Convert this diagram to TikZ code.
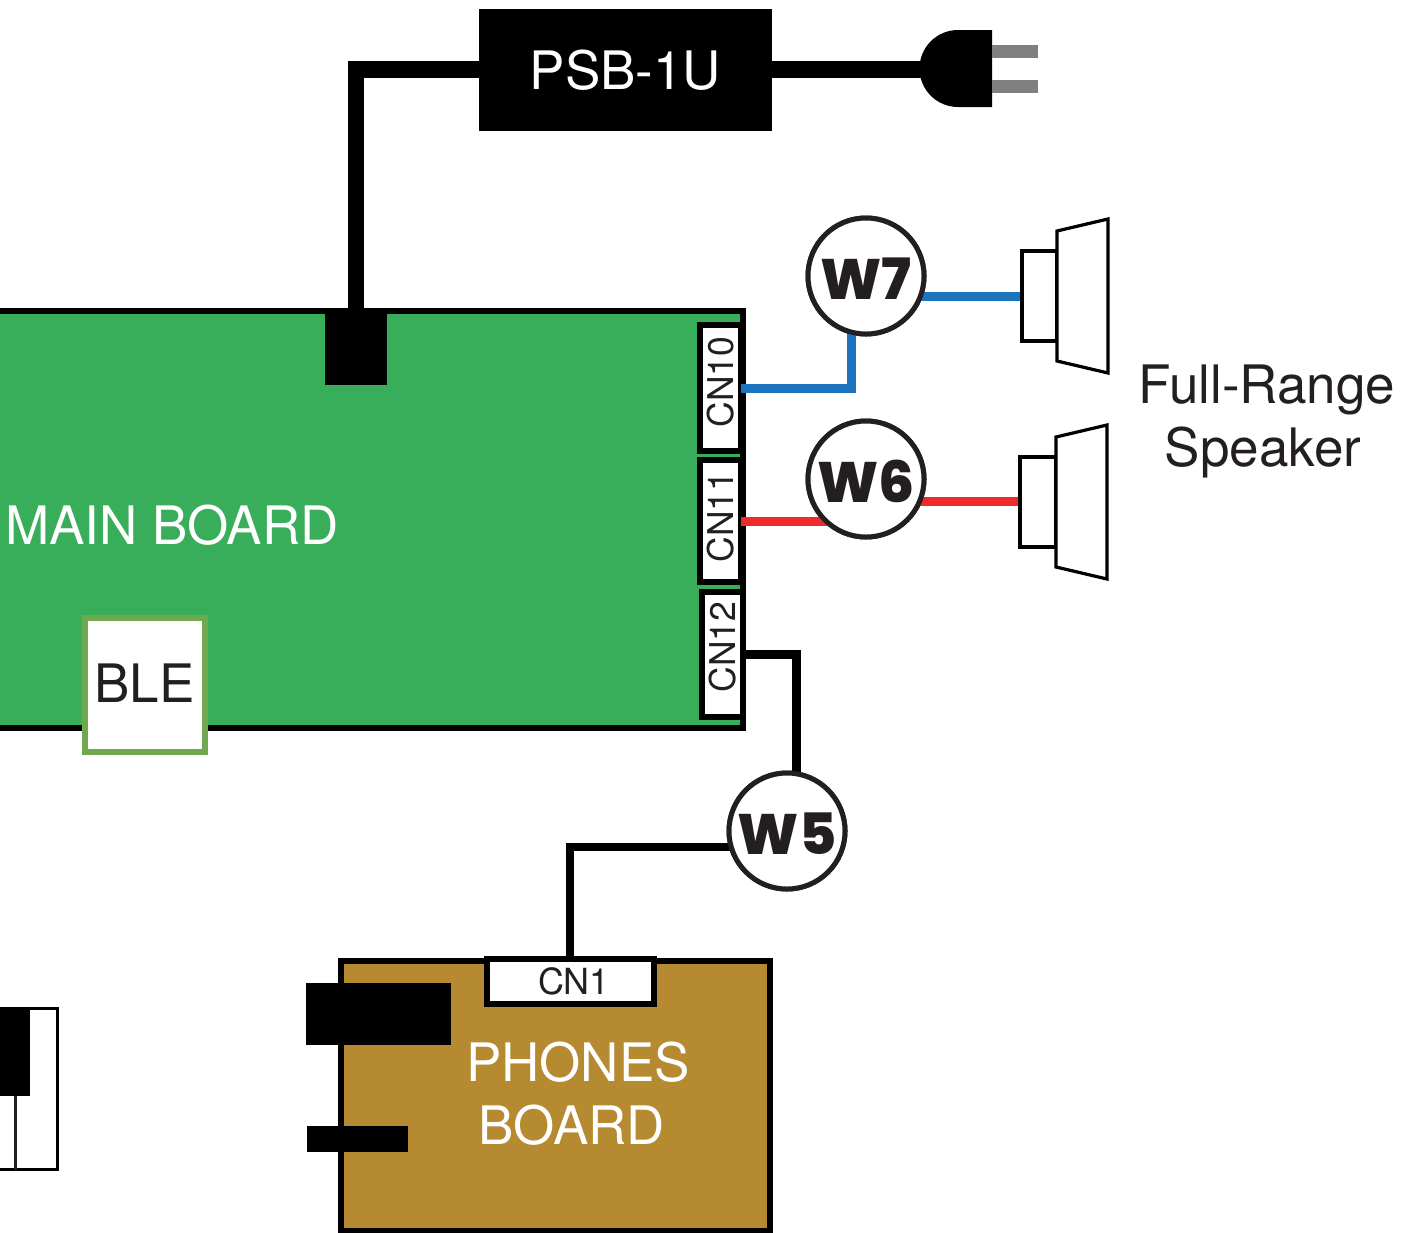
\documentclass[tikz,border=0pt]{standalone}
\usepackage{fontspec}
\setmainfont{TeX Gyre Heros}
\newfontfamily\wfont{Poppins ExtraBold}
\definecolor{ink}{HTML}{231F20}
\definecolor{pcbgreen}{HTML}{39AE5A}
\definecolor{pcbgold}{HTML}{B68A31}
\definecolor{blegreen}{HTML}{6FA84F}
\definecolor{wireblue}{HTML}{1C75BC}
\definecolor{wirered}{HTML}{EE2A2B}
\definecolor{prong}{HTML}{808083}
\tikzset{
  box/.style={draw=black,line width=#1,inner sep=0pt,outer sep=0pt},
  box/.default=6.5pt,
  blk/.style={fill=black,draw=none,inner sep=0pt,outer sep=0pt},
  wire/.style={line width=9pt,line cap=butt,line join=miter},
  label/.style={font=\fontsize{53}{53}\selectfont,text=ink,inner sep=0pt,outer sep=0pt,anchor=base},
  cnlabel/.style={font=\fontsize{35.5}{35.5}\selectfont,text=ink,inner sep=0pt,outer sep=0pt},
  wcircle/.style={circle,draw=ink,fill=white,line width=5pt,minimum size=116pt,inner sep=0pt,outer sep=0pt},
  wtext/.style={inner sep=0pt,outer sep=0pt,text=ink,font=\wfont\fontsize{57}{57}\selectfont,yshift=-2.5pt},
  spk/.style={draw=black,fill=white,line width=3.2pt,line join=miter},
}
\begin{document}
\begin{tikzpicture}[x=1pt,y=-1pt]
\useasboundingbox (0,0) rectangle (1410,1232);
\clip (0,0) rectangle (1410,1232);
% main board
\node[box,fill=pcbgreen,minimum width=783pt,minimum height=417pt,anchor=north east] (main) at (743,311) {};
\node[blk,minimum width=62pt,minimum height=76pt,anchor=north west] (mainpwr) at (325,309) {};
% connector boxes
\node[box,fill=white,minimum width=41pt,minimum height=126pt] (cn10) at (720.5,388) {};
\node[cnlabel,rotate=90] (cn10t) at (720.5,382) {CN10};
\node[box,fill=white,minimum width=41pt,minimum height=122pt] (cn11) at (720.5,521) {};
\node[cnlabel,rotate=90] (cn11t) at (720.5,517) {CN11};
\node[box,fill=white,minimum width=41pt,minimum height=125pt] (cn12) at (722.5,654.5) {};
\node[cnlabel,rotate=90] (cn12t) at (722.5,647) {CN12};
% board right edge on top of the connector boxes
\draw[line width=6.5pt,black] (main.north east) -- (main.south east);
\node[label,text=white] (mainlabel) at (172,544) {MAIN BOARD};
% BLE
\node[draw=blegreen,fill=white,line width=6pt,minimum width=120pt,minimum height=134pt,inner sep=0pt,outer sep=0pt] (ble) at (144.5,685) {};
\node[label] (bletext) at (144.5,702.5) {BLE};
% PSB and power wiring
\node[blk,minimum width=293pt,minimum height=122pt,anchor=north west,text=white,font=\fontsize{53}{53}\selectfont] (psb) at (479,9) {PSB-1U};
\coordinate (plugin) at (921,69.5);
\coordinate (pbend) at (356,69.5);
\draw[wire,line width=16.5pt] (mainpwr.north -| pbend) -- (pbend) -- (psb.west |- pbend);
\draw[wire,line width=17pt] (psb.east |- plugin) -- (plugin);
% plug
\fill[black] (992,30) -- (958,30) arc[start angle=-90,end angle=-270,radius=38.5] -- (992,107) -- cycle;
\fill[prong] (992,45) rectangle (1038,58);
\fill[prong] (992,80) rectangle (1038,93);
% speakers
\coordinate (s1) at (1022,296);
\coordinate (s2) at (1020,501.7);
% wires
\node[wcircle] (w7) at (866,276) {};
\node[wcircle] (w6) at (866,479) {};
\node[wcircle] (w5) at (787,831) {};
\coordinate (b1) at (851,388);
\coordinate (r1) at (830,521);
\coordinate (k1) at (796,654);
\coordinate (k2) at (570,847);
\draw[wire,wireblue] (741,388) coordinate (cn10out) -- (b1) -- (b1 |- w7.south);
\draw[wire,wireblue] (w7.center |- s1) -- (s1);
\draw[wire,wirered] (741,521) coordinate (cn11out) -- (r1);
\draw[wire,wirered] (w6.center |- s2) -- (s2);
\draw[wire,black] (746,654) coordinate (cn12out) -- (k1) -- (k1 |- w5.north);
% phones board
\node[box=6.5pt,fill=pcbgold,minimum width=429pt,minimum height=270pt,anchor=north west] (phones) at (341,961) {};
\node[box,fill=white,minimum width=167pt,minimum height=45pt] (cn1) at (570.5,981.5) {};
\node[font=\fontsize{36}{36}\selectfont,text=ink,inner sep=0pt] (cn1t) at (574,981.5) {CN1};
\draw[wire,black,line width=8pt] (w5.center |- k2) -- (k2) -- (cn1.north -| k2);
\node[blk,minimum width=145pt,minimum height=62pt,anchor=north west] (jack1) at (306,983) {};
\node[blk,minimum width=101pt,minimum height=26pt,anchor=north west] (jack2) at (307,1126) {};
\node[label,text=white] (ph1) at (578,1081) {PHONES};
\node[label,text=white] (ph2) at (572,1144) {BOARD};
% circles on top
\node[wcircle] at (w7) {};
\node[wcircle] at (w6) {};
\node[wcircle] at (w5) {};
\node[wtext] (w7t) at (w7) {W7};
\node[wtext] (w6t) at (w6) {W6};
\node[wtext] (w5t) at (w5) {W5};
% speaker shapes
\draw[spk] (1022,251) rectangle (1057,341);
\draw[spk] (1057,231) -- (1108,219) -- (1108,373) -- (1057,361) -- cycle;
\draw[spk] (1020,457) rectangle (1056,547);
\draw[spk] (1056,437) -- (1107,425) -- (1107,579) -- (1056,567) -- cycle;
\node[label] (fr1) at (1267,403) {Full-Range};
\node[label] (fr2) at (1263,466) {Speaker};
% keyboard
\draw[black,line width=2.6pt] (-5,1008.5) rectangle (57.7,1169.5);
\draw[ink,line width=3pt] (15,1008) -- (15,1170);
\fill[black] (-5,1007) rectangle (30,1096);
\end{tikzpicture}
\end{document}
